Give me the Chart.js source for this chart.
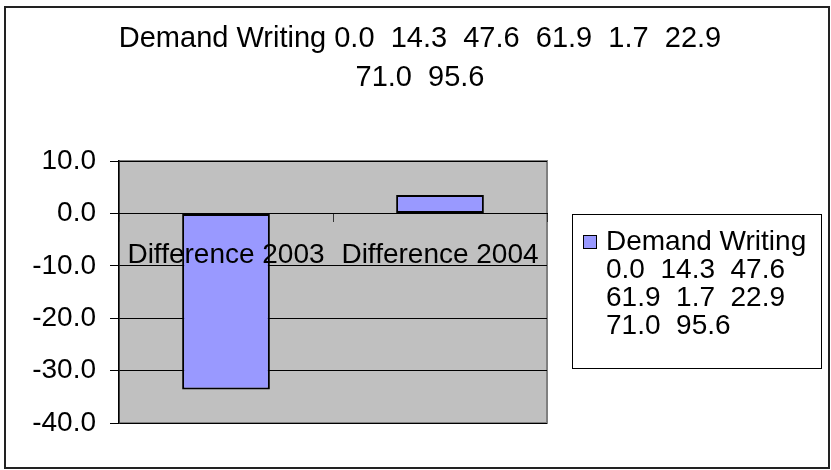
<!DOCTYPE html>
<html>
<head>
<meta charset="utf-8">
<script src="https://cdn.jsdelivr.net/npm/chart.js@4.4.1/dist/chart.umd.min.js"></script>
<style>
  html, body { margin: 0; padding: 0; background: #fff; }
  #wrap { width: 831px; height: 470px; }
</style>
</head>
<body>
<div id="wrap"><canvas id="chart" width="831" height="470"></canvas></div>
<script>
const categories = ['Difference 2003', 'Difference 2004'];
const values = [-33.6, 3.5];
const seriesName = 'Demand Writing 0.0  14.3  47.6  61.9  1.7  22.9  71.0  95.6';
const titleLines = ['Demand Writing 0.0  14.3  47.6  61.9  1.7  22.9', '71.0  95.6'];
const legendLines = ['Demand Writing', '0.0  14.3  47.6', '61.9  1.7  22.9', '71.0  95.6'];
const yTicks = { min: -40, max: 10, step: 10 };

const FONT = '"Liberation Sans", Arial, sans-serif';
const barColor = '#9999FF';

// plot background, outer frame, title and legend (excel style)
const excelFrame = {
  id: 'excelFrame',
  beforeDraw(chart) {
    const { ctx, chartArea: a } = chart;
    ctx.save();
    ctx.fillStyle = '#fff';
    ctx.fillRect(0, 0, chart.width, chart.height);
    ctx.fillStyle = '#C0C0C0';
    ctx.fillRect(a.left, a.top, a.right - a.left, a.bottom - a.top);
    ctx.strokeStyle = '#808080';
    ctx.lineWidth = 2;
    ctx.strokeRect(a.left, a.top, a.right - a.left, a.bottom - a.top);
    ctx.restore();
  },
  afterDraw(chart) {
    const { ctx } = chart;
    ctx.save();
    // outer border
    ctx.strokeStyle = '#222';
    ctx.lineWidth = 2;
    ctx.strokeRect(5, 7, 824, 461);

    // title
    ctx.fillStyle = '#000';
    ctx.textAlign = 'center';
    ctx.textBaseline = 'middle';
    ctx.font = '29px ' + FONT;
    titleLines.forEach((t, i) => ctx.fillText(t, 420, 39 + i * 38.5));

    // legend box
    ctx.strokeStyle = '#000';
    ctx.lineWidth = 1;
    ctx.strokeRect(572.5, 214.5, 249, 154);
    const ds = chart.data.datasets[0];
    ctx.fillStyle = ds.backgroundColor;
    ctx.fillRect(583.5, 235.5, 13, 13);
    ctx.strokeRect(583.5, 235.5, 13, 13);
    ctx.fillStyle = '#000';
    ctx.textAlign = 'left';
    ctx.font = '28px ' + FONT;
    legendLines.forEach((t, i) => ctx.fillText(t, 606, 242 + i * 28));
    ctx.restore();
  }
};

new Chart(document.getElementById('chart'), {
  type: 'bar',
  data: {
    labels: categories,
    datasets: [{
      label: seriesName,
      data: values,
      backgroundColor: barColor,
      borderColor: '#000',
      borderWidth: 2,
      borderSkipped: false,
      categoryPercentage: 1,
      barPercentage: 0.41
    }]
  },
  options: {
    responsive: false,
    animation: false,
    layout: { padding: { left: 0, top: 161, right: 284, bottom: 47 } },
    plugins: {
      legend: { display: false },
      title: { display: false },
      tooltip: { enabled: false }
    },
    scales: {
      x: {
        position: { y: 0 },
        grid: { drawOnChartArea: false, drawTicks: true, tickLength: 8, color: '#333', offset: true, z: 1 },
        border: { display: true, color: '#000', width: 1, z: 1 },
        ticks: { color: '#000', font: { family: FONT, size: 28 }, padding: 17, maxRotation: 0, z: 1 }
      },
      y: {
        min: yTicks.min,
        max: yTicks.max,
        afterFit(scale) { scale.width = 119; },
        grid: { color: '#000', lineWidth: 1, tickLength: 9 },
        border: { display: true, color: '#000', width: 1.5 },
        ticks: {
          stepSize: yTicks.step,
          color: '#000',
          padding: 14,
          font: { family: FONT, size: 28 },
          callback: v => v.toFixed(1)
        }
      }
    }
  },
  plugins: [excelFrame]
});
</script>
</body>
</html>
